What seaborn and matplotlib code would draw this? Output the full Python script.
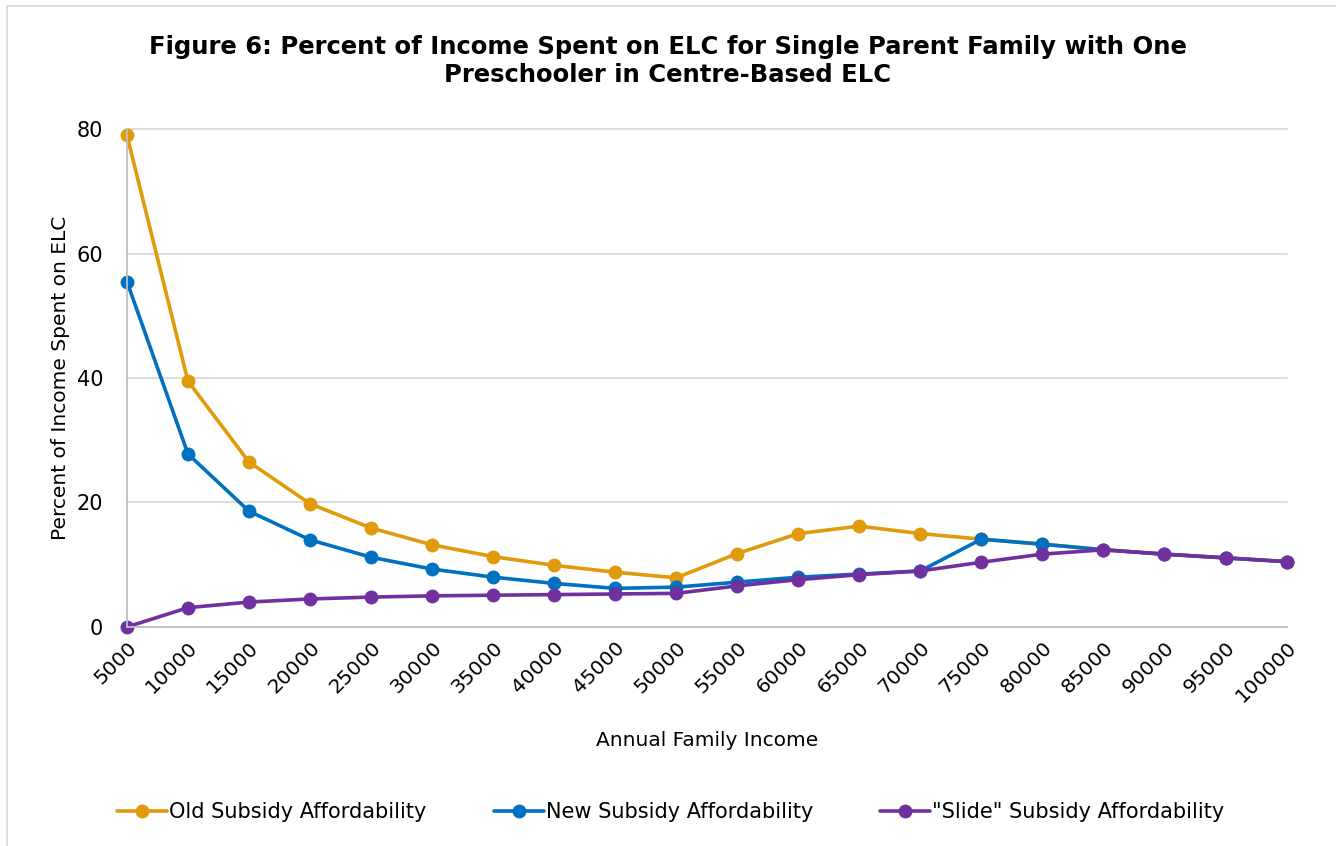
import matplotlib
matplotlib.use("Agg")
import matplotlib.pyplot as plt
import matplotlib.patches as mpatches
import seaborn as sns
import pandas as pd

incomes = [5000, 10000, 15000, 20000, 25000, 30000, 35000, 40000, 45000, 50000,
           55000, 60000, 65000, 70000, 75000, 80000, 85000, 90000, 95000, 100000]
old_subsidy = [79.0, 39.5, 26.5, 19.8, 15.9, 13.2, 11.3, 9.9, 8.8, 7.9,
               11.8, 15.0, 16.2, 15.0, 14.1, 13.3, 12.4, 11.7, 11.1, 10.5]
new_subsidy = [55.5, 27.8, 18.6, 14.0, 11.2, 9.3, 8.0, 7.0, 6.2, 6.4,
               7.2, 8.0, 8.5, 9.0, 14.1, 13.3, 12.4, 11.7, 11.1, 10.5]
slide_subsidy = [0.0, 3.1, 4.0, 4.5, 4.8, 5.0, 5.1, 5.2, 5.3, 5.4,
                 6.6, 7.6, 8.4, 9.0, 10.4, 11.7, 12.4, 11.7, 11.1, 10.5]
series_names = ["Old Subsidy Affordability", "New Subsidy Affordability",
                "\"Slide\" Subsidy Affordability"]
colors = ["#E09A0A", "#0070C0", "#7030A0"]

df = pd.DataFrame({"Income": incomes,
                   series_names[0]: old_subsidy,
                   series_names[1]: new_subsidy,
                   series_names[2]: slide_subsidy})
long = df.melt(id_vars="Income", var_name="Series", value_name="Percent")

sns.set_theme(style="white")
plt.rcParams["font.family"] = ["DejaVu Sans"]
plt.rcParams["text.color"] = "black"
plt.rcParams["axes.labelcolor"] = "black"
plt.rcParams["xtick.color"] = "black"
plt.rcParams["ytick.color"] = "black"

fig = plt.figure(figsize=(13.36, 8.46), dpi=100)
ax = fig.add_axes([0.095, 0.2589, 0.868, 0.5886])

sns.lineplot(data=long, x="Income", y="Percent", hue="Series",
             hue_order=series_names, palette=colors, marker="o",
             markersize=10, markeredgewidth=0, linewidth=2.6, ax=ax,
             legend=False, sort=False, clip_on=False)

ax.set_xlim(5000, 100000)
ax.set_ylim(0, 80)
ax.set_yticks([0, 20, 40, 60, 80])
ax.set_xticks(incomes)
ax.set_xticklabels([str(v) for v in incomes], rotation=45, ha="right",
                   rotation_mode="anchor", fontsize=14.5)
ax.tick_params(axis="y", labelsize=15, length=0, pad=17)
ax.tick_params(axis="x", length=0, pad=8)
ax.yaxis.grid(True, color="#D9D9D9", linewidth=1.3)
for gl in ax.get_ygridlines():
    gl.set_clip_on(False)
ax.xaxis.grid(False)
for s in ["top", "right"]:
    ax.spines[s].set_visible(False)
ax.spines["left"].set_color("#BFBFBF")
ax.spines["left"].set_linewidth(1.3)
ax.spines["bottom"].set_color("#BFBFBF")
ax.spines["bottom"].set_linewidth(1.3)
ax.set_axisbelow(True)

ax.set_xlabel("Annual Family Income", fontsize=14.5, labelpad=18)
ax.set_ylabel("Percent of Income Spent on ELC", fontsize=14.5, labelpad=5)

fig.text(0.5, 0.928, "Figure 6: Percent of Income Spent on ELC for Single Parent Family with One\nPreschooler in Centre-Based ELC",
         ha="center", va="center", fontsize=17.5, fontweight="bold", linespacing=1.25)

handles = [plt.Line2D([0], [0], color=c, marker="o", markersize=10,
                      markeredgewidth=0, linewidth=2.6) for c in colors]
fig.legend(handles, series_names, loc="center", bbox_to_anchor=(0.502, 0.04),
           ncol=3, frameon=False, fontsize=15, handlelength=2.4,
           handletextpad=0.1, columnspacing=3.2)

border = mpatches.Rectangle((0.0052, -0.2), 1.5, 0.9929 + 0.2,
                            transform=fig.transFigure, fill=False,
                            edgecolor="#D9D9D9", linewidth=1.3)
fig.patches.append(border)

fig.savefig("out.png", dpi=100)
